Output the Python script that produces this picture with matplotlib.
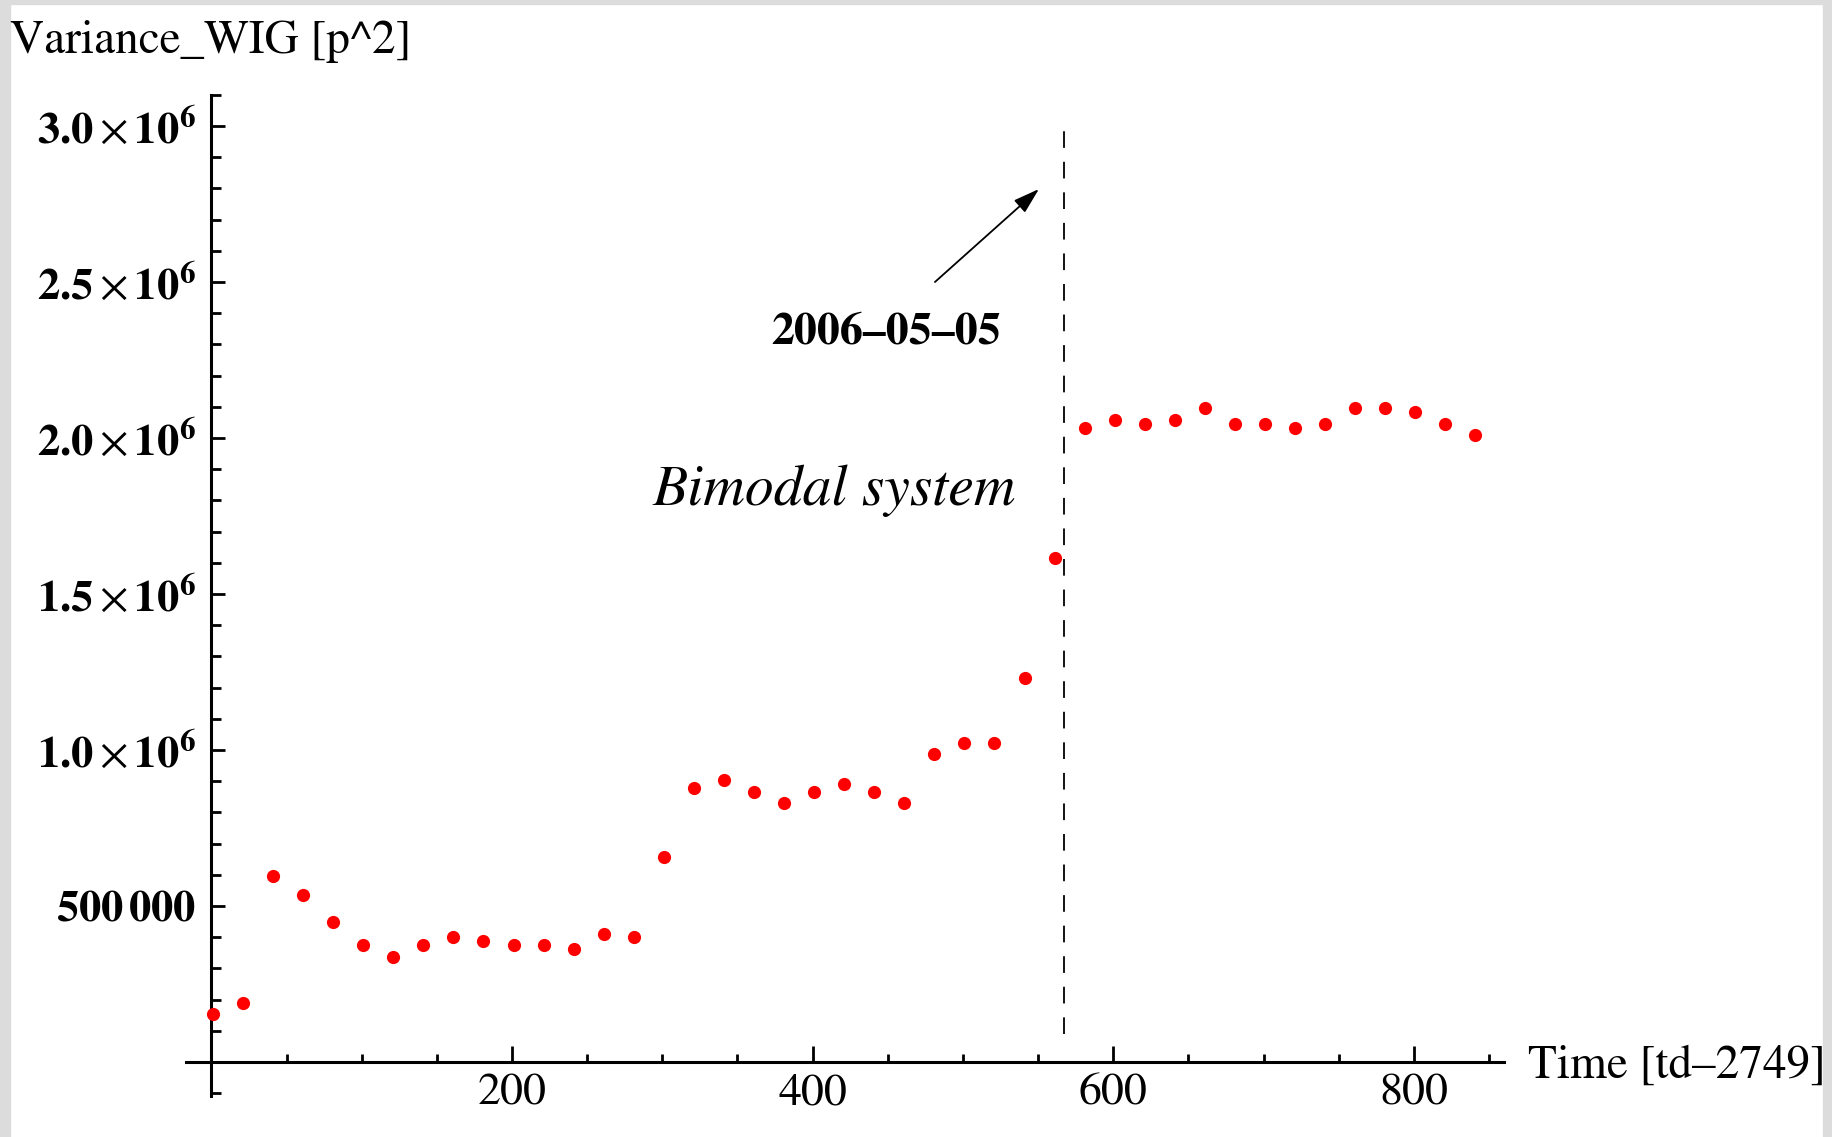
import matplotlib
matplotlib.use("Agg")
import matplotlib.pyplot as plt
from matplotlib.patches import Rectangle
from matplotlib.ticker import FixedLocator

plt.rcParams['font.family'] = 'STIXGeneral'
plt.rcParams['mathtext.fontset'] = 'stix'
plt.rcParams['lines.scale_dashes'] = False

# ---------------- data ----------------
time_td = [1, 21, 41, 61, 81, 101, 121, 141, 161, 181, 201, 221, 241, 261, 281,
           301, 321, 341, 361, 381, 401, 421, 441, 461, 481, 501, 521, 541, 561,
           581, 601, 621, 641, 661, 681, 701, 721, 741, 761, 781, 801, 821, 841]
variance = [154000, 190000, 596000, 534000, 448000, 374000, 338000, 374000, 400000,
            387000, 374000, 374000, 362000, 410000, 400000,
            657000, 878000, 903000, 866000, 829000, 866000, 891000, 866000, 829000,
            988000, 1023000, 1023000, 1230000, 1616000,
            2033000, 2058000, 2046000, 2058000, 2095000, 2046000, 2046000, 2033000,
            2046000, 2095000, 2095000, 2082000, 2046000, 2009000]

event_x = 567
event_label = "2006\u201305\u201305"
regime_label = "Bimodal system"
y_label = "Variance_WIG [p^2]"
x_label = "Time [td\u20132749]"

x_major = [200, 400, 600, 800]
x_major_labels = ["200", "400", "600", "800"]
x_minor = [50, 100, 150, 250, 300, 350, 450, 500, 550, 650, 700, 750, 850]
y_major = [500000, 1000000, 1500000, 2000000, 2500000, 3000000]
y_major_labels = [r"$\mathbf{500\,000}$",
                  r"$\mathbf{1.0}\times\mathbf{10}^{\mathbf{6}}$",
                  r"$\mathbf{1.5}\times\mathbf{10}^{\mathbf{6}}$",
                  r"$\mathbf{2.0}\times\mathbf{10}^{\mathbf{6}}$",
                  r"$\mathbf{2.5}\times\mathbf{10}^{\mathbf{6}}$",
                  r"$\mathbf{3.0}\times\mathbf{10}^{\mathbf{6}}$"]
y_minor = [v * 100000 for v in range(-1, 32) if v % 5 != 0]

# ---------------- layout ----------------
W, H = 1833, 1137
fig = plt.figure(figsize=(W / 100, H / 100), dpi=100)
fig.patch.set_facecolor('white')
gray = '#dcdcdc'
for (x, y, w, h) in [(0, 0, 10, H), (0, H - 4, W, 4), (W - 10, 0, 10, H)]:
    fig.patches.append(Rectangle((x / W, y / H), w / W, h / H,
                                 transform=fig.transFigure, color=gray, zorder=0))

x0px, xs = 211.4, 1.503          # pixel of x=0, px per unit
y0px, ys = 1062.0, 312e-6        # pixel of y=0, px per unit
xlim = (-17, 860)
ylim = (-110000, 3100000)
left = (x0px + xs * xlim[0]) / W
right = (x0px + xs * xlim[1]) / W
top = 1 - (y0px - ys * ylim[1]) / H
bottom = 1 - (y0px - ys * ylim[0]) / H
ax = fig.add_axes([left, bottom, right - left, top - bottom])
ax.patch.set_alpha(0)
ax.set_xlim(*xlim)
ax.set_ylim(*ylim)

for s in ['top', 'right']:
    ax.spines[s].set_visible(False)
ax.spines['left'].set_position(('data', 0))
ax.spines['bottom'].set_position(('data', 0))
for s in ['left', 'bottom']:
    ax.spines[s].set_linewidth(2.2)
    ax.spines[s].set_color('black')

ax.xaxis.set_major_locator(FixedLocator(x_major))
ax.set_xticklabels(x_major_labels)
ax.xaxis.set_minor_locator(FixedLocator(x_minor))
ax.yaxis.set_major_locator(FixedLocator(y_major))
ax.set_yticklabels(y_major_labels)
ax.yaxis.set_minor_locator(FixedLocator(y_minor))

ax.tick_params(axis='x', which='major', direction='in', length=11.5, width=2,
               labelsize=33, pad=8)
ax.tick_params(axis='x', which='minor', direction='in', length=6, width=2)
ax.tick_params(axis='y', which='major', direction='in', length=10, width=2,
               labelsize=32, pad=11)
ax.tick_params(axis='y', which='minor', direction='in', length=7, width=2)

# data
ax.plot(time_td, variance, linestyle='none', marker='o', markersize=9.5,
        color='#ff0000', markeredgewidth=0, zorder=3)

# event marker
ax.vlines(event_x, 90000, 3000000, colors='black', linewidth=1.3,
          linestyles=[(0, (12, 10))], zorder=2)

ax.annotate('', xy=(550.6, 2798000), xytext=(481.4, 2500000),
            arrowprops=dict(arrowstyle='-|>,head_length=0.8,head_width=0.25',
                            color='black', lw=1.3, mutation_scale=20,
                            shrinkA=0, shrinkB=0))
ax.text(448.8, 2304000, event_label, ha='center', va='baseline',
        fontsize=33, fontweight='bold')
ax.text(293.7, 1785000, regime_label, ha='left', va='baseline',
        fontsize=41.5, fontstyle='italic')

# axis labels
fig.text(10 / W, 1 - 53 / H, y_label, ha='left', va='baseline', fontsize=34)
fig.text(1528 / W, 1 - 1078 / H, x_label, ha='left', va='baseline', fontsize=34)

fig.savefig('out.png', dpi=100)
